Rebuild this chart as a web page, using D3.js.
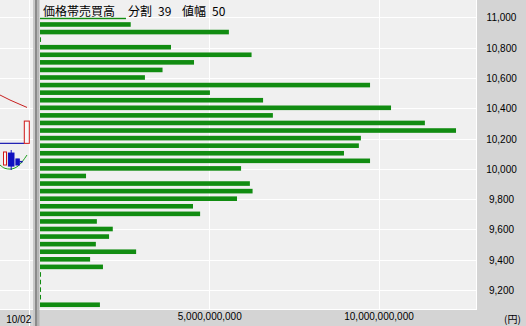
<!DOCTYPE html>
<html>
<head>
<meta charset="utf-8">
<script src="https://cdn.jsdelivr.net/npm/d3@7"></script>
<style>
  html, body { margin: 0; padding: 0; background: #f0f0f0; }
  svg { display: block; }
  .tick text { font-family: "Liberation Sans", Arial, sans-serif; font-size: 10px; fill: #000; }
</style>
</head>
<body>
<svg id="chart" width="526" height="326"></svg>
<script>
// Price levels (yen), one per band, top to bottom
const priceLevels = [11000, 10950, 10900, 10850, 10800, 10750, 10700, 10650, 10600, 10550,
  10500, 10450, 10400, 10350, 10300, 10250, 10200, 10150, 10100, 10050,
  10000, 9950, 9900, 9850, 9800, 9750, 9700, 9650, 9600, 9550,
  9500, 9450, 9400, 9350, 9300, 9250, 9200, 9150, 9100];

// Traded value per band (yen)
const tradedValue = [2.54e9, 2.68e9, 5.58e9, 0.03e9, 3.87e9, 6.25e9, 4.55e9, 3.62e9, 3.10e9, 9.75e9,
  5.02e9, 6.59e9, 10.37e9, 6.88e9, 11.37e9, 12.29e9, 9.48e9, 9.42e9, 8.98e9, 9.75e9,
  5.94e9, 1.36e9, 6.20e9, 6.28e9, 5.82e9, 4.52e9, 4.73e9, 1.68e9, 2.15e9, 2.04e9,
  1.65e9, 2.84e9, 1.48e9, 1.86e9, 0.03e9, 0.03e9, 0.03e9, 0.03e9, 1.77e9];

const priceTicks = [9200, 9400, 9600, 9800, 10000, 10200, 10400, 10600, 10800, 11000];
const valueTicks = [5e9, 1e10];
const titleParts = [["価格帯売買高", 43], ["分割", 128], ["39", 158], ["値幅", 182], ["50", 212]];
const dateLabel = "10/02";
const unitLabel = "(円)";

// Tail of the candlestick pane on the left (shares the price scale)
const candles = [
  { x: 5,    open: 10025, close: 10111, high: 10111, low: 10025, w: 3,   color: "#d01818", hollow: true },
  { x: 11.2, open: 10104, close: 10018, high: 10124, low: 9992,  w: 5.6, color: "#1010c0", hollow: false },
  { x: 17.6, open: 10065, close: 10025, high: 10065, low: 10025, w: 3.4, color: "#1010c0", hollow: false },
  { x: 26.8, open: 10168, close: 10315, high: 10315, low: 10168, w: 5,   color: "#d01818", hollow: true }
];
const redAverage = [[0, 10487], [10, 10454], [20, 10425], [27, 10405]];
const blueAverage = [[0, 10168], [24.3, 10168]];
const greenAverage = [[0, 10025], [5, 10003], [10, 9998], [18, 10018], [27, 10091]];
const blueTick = [[19.3, 10047], [22.7, 10047]];

const svg = d3.select("#chart");
const W = 526, H = 326;
const plotLeft = 40, plotRight = 476, plotBottom = 309.5;

const x = d3.scaleLinear().domain([0, 1e10]).range([plotLeft, 378.5]);
const y = d3.scaleLinear().domain([9200, 11000]).range([290, 17.3]);
const paneX = d3.scaleLinear().domain([0, 33]).range([0, 33]);

// background and frame panels
svg.append("rect").attr("width", W).attr("height", H).attr("fill", "#f0f0f0");
svg.append("rect").attr("x", plotRight + 1).attr("y", 0).attr("width", W - plotRight - 1).attr("height", H).attr("fill", "#d4d4d4");
svg.append("rect").attr("x", 0).attr("y", plotBottom + 0.5).attr("width", W).attr("height", H - plotBottom).attr("fill", "#d4d4d4");

// grid
const grid = svg.append("g").attr("stroke", "#ffffff").attr("stroke-width", 1);
grid.selectAll("line.h").data(priceTicks).join("line")
  .attr("x1", 0).attr("x2", plotRight).attr("y1", d => Math.round(y(d)) + 0.5).attr("y2", d => Math.round(y(d)) + 0.5);
grid.selectAll("line.v").data(valueTicks).join("line")
  .attr("x1", d => Math.round(x(d)) + 0.5).attr("x2", d => Math.round(x(d)) + 0.5).attr("y1", 0).attr("y2", plotBottom);
grid.append("line").attr("x1", plotRight + 0.5).attr("x2", plotRight + 0.5).attr("y1", 0).attr("y2", plotBottom + 0.5);
grid.append("line").attr("x1", 0).attr("x2", plotRight + 0.5).attr("y1", plotBottom).attr("y2", plotBottom);
grid.append("line").attr("x1", 29.5).attr("x2", 29.5).attr("y1", 0).attr("y2", H);

// candlestick pane tail
const pane = svg.append("g");
const line = d3.line().x(d => paneX(d[0])).y(d => y(d[1]));
pane.append("path").attr("d", line.curve(d3.curveMonotoneX)(redAverage)).attr("fill", "none").attr("stroke", "#c82020").attr("stroke-width", 1);
pane.append("path").attr("d", d3.line().x(d => paneX(d[0])).y(d => y(d[1]))(blueAverage)).attr("fill", "none").attr("stroke", "#1818b0").attr("stroke-width", 1.2);
pane.append("path").attr("d", d3.line().x(d => paneX(d[0])).y(d => y(d[1])).curve(d3.curveMonotoneX)(greenAverage)).attr("fill", "none").attr("stroke", "#20a020").attr("stroke-width", 1);
pane.selectAll("line.wick").data(candles).join("line")
  .attr("x1", d => paneX(d.x)).attr("x2", d => paneX(d.x))
  .attr("y1", d => y(d.high)).attr("y2", d => y(d.low))
  .attr("stroke", d => d.color).attr("stroke-width", 1);
pane.selectAll("rect.body").data(candles).join("rect")
  .attr("x", d => paneX(d.x - d.w / 2)).attr("width", d => paneX(d.w) - paneX(0))
  .attr("y", d => y(Math.max(d.open, d.close))).attr("height", d => Math.abs(y(d.open) - y(d.close)))
  .attr("fill", d => d.hollow ? "#f8f8f8" : d.color)
  .attr("stroke", d => d.color).attr("stroke-width", 1);
pane.append("path").attr("d", d3.line().x(d => paneX(d[0])).y(d => y(d[1]))(blueTick)).attr("stroke", "#1818b0").attr("stroke-width", 1.5);

// volume-by-price bars (the title band hides the top of the highest band)
svg.append("clipPath").attr("id", "plotClip")
  .append("rect").attr("x", plotLeft).attr("y", 17.8).attr("width", plotRight - plotLeft).attr("height", plotBottom - 17.8);
const barH = 4.6;
const bars = priceLevels.map((p, i) => ({ price: p, value: tradedValue[i] }));
svg.append("g").attr("clip-path", "url(#plotClip)")
  .selectAll("rect").data(bars).join("rect")
  .attr("x", x(0))
  .attr("y", d => y(d.price) - barH / 2 - 0.4)
  .attr("width", d => Math.max(1, x(d.value) - x(0)))
  .attr("height", barH)
  .attr("fill", "#118c11");

// title
svg.append("text")
  .attr("y", 15.5)
  .attr("font-family", "'Noto Sans CJK JP', sans-serif")
  .attr("font-size", 12)
  .attr("fill", "#000")
  .selectAll("tspan").data(titleParts).join("tspan")
  .attr("x", d => d[1])
  .text(d => d[0]);

// price axis (right)
const yAxis = d3.axisRight(y).tickValues(priceTicks).tickFormat(d3.format(",")).tickSize(0);
const yG = svg.append("g").attr("transform", "translate(501.5,0)").call(yAxis);
yG.select(".domain").remove();
yG.selectAll("text").attr("x", 0).attr("text-anchor", "middle").attr("dy", "0.35em");

// value axis (bottom)
const xAxis = d3.axisBottom(x).tickValues(valueTicks).tickFormat(d3.format(",")).tickSize(0);
const xG = svg.append("g").attr("transform", "translate(0,313)").call(xAxis);
xG.select(".domain").remove();
xG.selectAll("text").attr("y", 0).attr("dy", "0.71em");

svg.append("text").attr("x", 18.7).attr("y", 323).attr("text-anchor", "middle")
  .attr("font-family", "'Liberation Sans', Arial, sans-serif").attr("font-size", 10).text(dateLabel);
svg.append("text").attr("x", 512.5).attr("y", 323).attr("text-anchor", "middle")
  .attr("font-family", "'Noto Sans CJK JP', sans-serif").attr("font-size", 10).text(unitLabel);

// pane separator
const sep = svg.append("g");
sep.append("rect").attr("x", 33).attr("y", 0).attr("width", 2).attr("height", H).attr("fill", "#c8c8c8");
sep.append("rect").attr("x", 35).attr("y", 0).attr("width", 2.5).attr("height", H).attr("fill", "#8a8a8a");
sep.append("rect").attr("x", 37.5).attr("y", 0).attr("width", 2).attr("height", H).attr("fill", "#b4b4b4");
</script>
</body>
</html>
